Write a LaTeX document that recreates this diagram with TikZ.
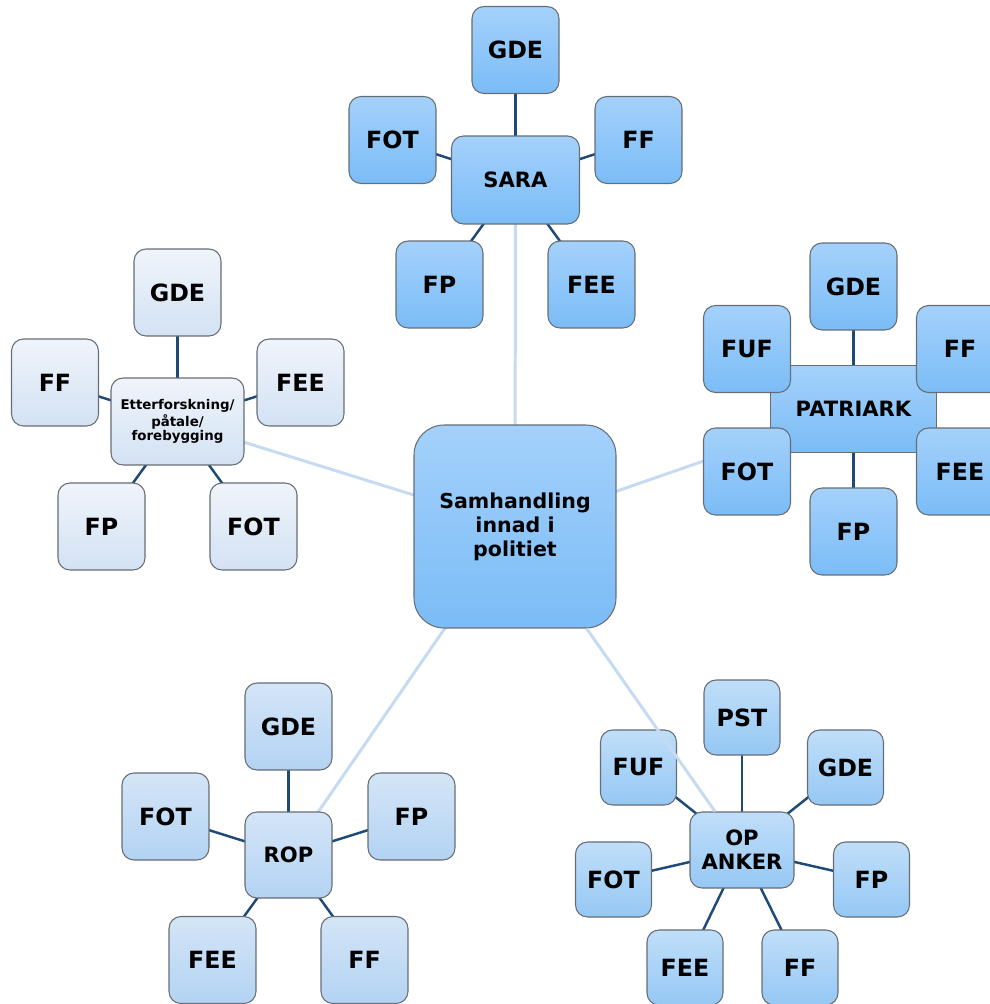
\documentclass[tikz,border=0pt]{standalone}
\usepackage{fontspec}
\setmainfont{DejaVu Sans}
\usetikzlibrary{backgrounds}
\definecolor{linkc}{HTML}{1F4A78}
\definecolor{tiec}{HTML}{C6DAF2}
\definecolor{edgec}{HTML}{666D75}
\tikzset{ box/.style = { rectangle % any box
, rounded corners = 0.24cm
, draw = edgec
, line width = 0.6pt
, align = center
, inner sep = 0pt
}
, sat/.style = { box % satellite
, minimum width = 1.74cm
, minimum height = 1.74cm
, font = \fontsize{13.5}{16}\selectfont\bfseries
}
, small/.style = { minimum width = 1.52cm % satellite of OP ANKER
, minimum height = 1.50cm
}
, grp/.style = { box % group centre
, font = \fontsize{12}{13.7}\selectfont\bfseries
}
, hub/.style = { box % the middle
, rounded corners = 0.6cm
, minimum width = 4.04cm
, minimum height = 4.06cm
, top color = deepT
, bottom color = deepB
, font = \fontsize{11.7}{13.7}\selectfont\bfseries
}
, deep/.style = { top color = deepT, bottom color = deepB }
, mid/.style = { top color = midT, bottom color = midB }
, soft/.style = { top color = softT, bottom color = softB }
, pale/.style = { top color = paleT, bottom color = paleB }
, link/.style = { draw = linkc, line width = 1.4pt } % dark line
, tie/.style = { draw = tiec, line width = 1.7pt } % light line
}
\definecolor{deepT}{HTML}{A4D1FB}
\definecolor{deepB}{HTML}{7BBCF7}
\definecolor{midT}{HTML}{C0DEF9}
\definecolor{midB}{HTML}{95C8F4}
\definecolor{softT}{HTML}{D4E5F7}
\definecolor{softB}{HTML}{B3D3F3}
\definecolor{paleT}{HTML}{F0F4FA}
\definecolor{paleB}{HTML}{D3E2F4}

\begin{document}
\begin{tikzpicture}[x=0.02cm, y=-0.02cm]
\useasboundingbox (0,0) rectangle (990,1004);

\node[hub] (hub) at (515,526.5) {Samhandling\\innad i\\politiet};

% SARA
\node[grp, deep, minimum width=2.56cm, minimum height=1.76cm] (sara) at (515.5,180) {SARA};
\foreach \t/\x/\y in {GDE/515.5/50, FOT/392.5/140, FF/638.5/140, FP/439.5/284.5, FEE/591.5/284.5}
  \node[sat, deep] (sara-\t) at (\x,\y) {\t};

% Etterforskning
\node[grp, pale, minimum width=2.66cm, minimum height=1.74cm, font=\fontsize{7.6}{8.2}\selectfont\bfseries]
  (etter) at (177.5,421.5) {Etterforskning/\\påtale/\\forebygging};
\foreach \t/\x/\y in {GDE/177.5/292.5, FF/55/382.5, FEE/300.5/382.5, FP/101.5/526.5, FOT/253.5/526.5}
  \node[sat, pale] (etter-\t) at (\x,\y) {\t};

% PATRIARK
\node[grp, deep, rounded corners=0pt, minimum width=3.32cm, minimum height=1.74cm] (patr) at (853.5,409) {PATRIARK};
\foreach \t/\x/\y in {GDE/853.5/286.5, FUF/747/349, FF/960/349, FOT/747/471.5, FEE/960/471.5, FP/853.5/531.5}
  \node[sat, deep] (patr-\t) at (\x,\y) {\t};

% ROP
\node[grp, soft, minimum width=1.74cm, minimum height=1.72cm] (rop) at (288.5,855) {ROP};
\foreach \t/\x/\y in {GDE/288.5/726.5, FOT/165.5/816.5, FP/411.5/816.5, FEE/212.5/960, FF/364.5/960}
  \node[sat, soft] (rop-\t) at (\x,\y) {\t};

% OP ANKER
\node[grp, mid, minimum width=2.08cm, minimum height=1.52cm] (opa) at (742,850) {OP\\ANKER};
\foreach \t/\x/\y in {PST/742/717.5, FUF/638.5/767.5, GDE/845.5/767.5, FOT/613.5/879.5, FP/871.5/879.5, FEE/685/967.5, FF/800/967.5}
  \node[sat, small, mid] (opa-\t) at (\x,\y) {\t};

\begin{scope}[on background layer]
  \foreach \t in {GDE, FOT, FF, FP, FEE} \draw[link] (sara.center) -- (sara-\t.center);
  \foreach \t in {GDE, FF, FEE, FP, FOT} \draw[link] (etter.center) -- (etter-\t.center);
  \foreach \t in {GDE, FUF, FF, FOT, FEE, FP} \draw[link] (patr.center) -- (patr-\t.center);
  \foreach \t in {GDE, FOT, FP, FEE, FF} \draw[link] (rop.center) -- (rop-\t.center);
  \foreach \t in {PST, FUF, GDE, FOT, FP, FEE, FF} \draw[link] (opa.center) -- (opa-\t.center);
  \foreach \g in {sara, etter, patr, rop} \draw[tie] (hub.center) -- (\g.center);
\end{scope}
\draw[tie] (hub) -- (opa); % runs over FUF

\end{tikzpicture}
\end{document}
